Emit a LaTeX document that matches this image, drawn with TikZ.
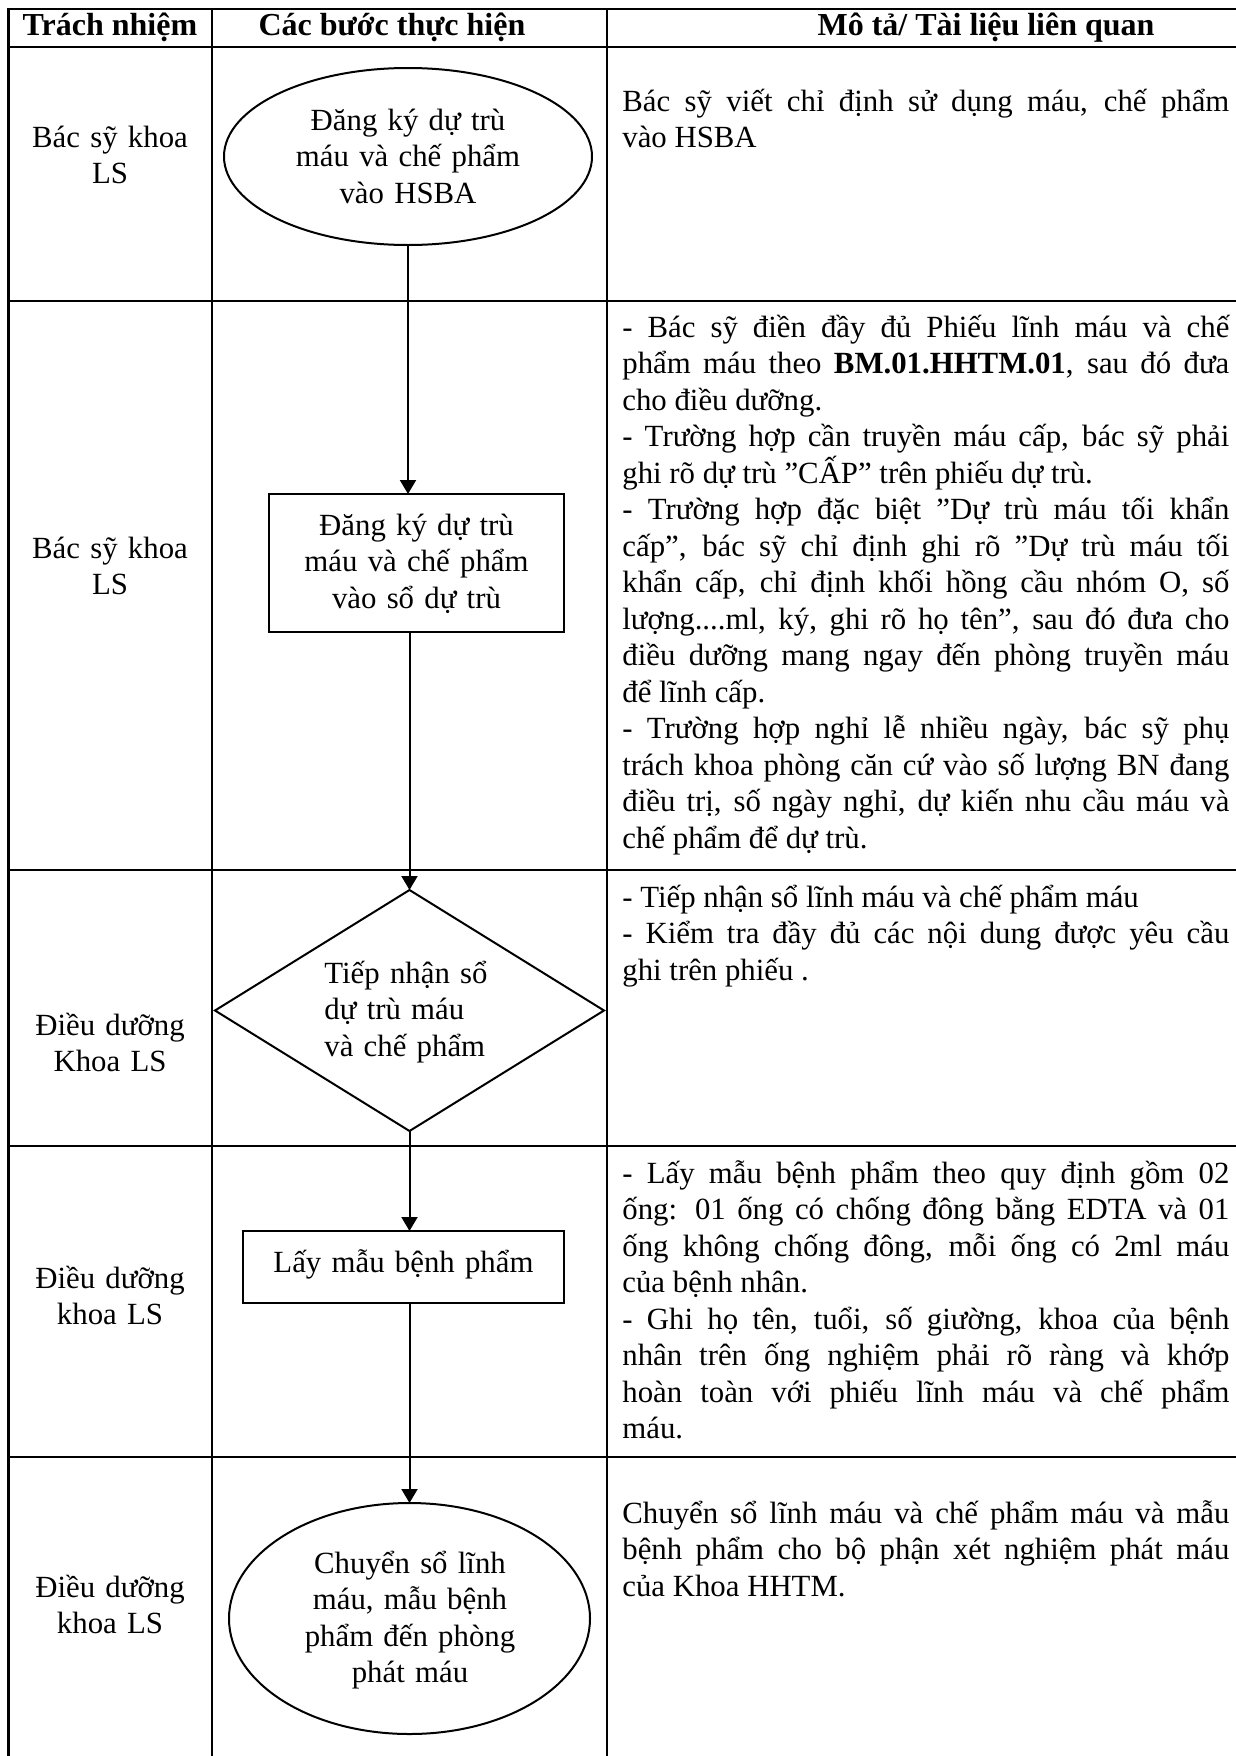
\documentclass[tikz,border=0pt]{standalone}
\usepackage{fontspec}
\setmainfont{Liberation Serif}
\usetikzlibrary{shapes.geometric,arrows.meta}
\newcommand\JL[1]{\hbox to \hsize{#1}}
\newcommand\LL[1]{\hbox{#1}}
\newcommand\DescBlock[1]{\vtop{\hsize=303.5pt\lineskiplimit=-100pt\lineskip=0pt\baselineskip=18.25pt\parindent=0pt #1}}
\tikzset{
  tbl/.style={line width=1.3pt, line cap=rect},
  shp/.style={draw, line width=1pt, inner sep=0pt, outer sep=0pt},
  arr/.style={line width=1pt, -{Triangle[width=8pt,length=7pt]}},
  txt/.style={inner sep=0pt, font=\fontsize{15.4pt}{18.25pt}\selectfont,
              execute at begin node={\lineskiplimit=-100pt\lineskip=0pt}},
  hdr/.style={txt, anchor=base, font=\fontsize{16pt}{18.25pt}\selectfont\bfseries},
  lbl/.style={txt, anchor=base, text width=110pt, align=center},
  inlbl/.style={txt, anchor=base, text width=170pt, align=center},
  desc/.style={txt, anchor=base west},
}
\begin{document}
\begin{tikzpicture}[x=0.5pt,y=-0.5pt]
\useasboundingbox (0,0) rectangle (1236,1756);

% table grid
\draw[tbl] (8.5,9) -- (1240,9);
\draw[tbl] (8.5,47) -- (1240,47);
\draw[tbl] (8.5,301) -- (1240,301);
\draw[tbl] (8.5,870) -- (1240,870);
\draw[tbl] (8.5,1146) -- (1240,1146);
\draw[tbl] (8.5,1457) -- (1240,1457);
\draw[tbl] (8.5,9) -- (8.5,1762);
\draw[tbl] (212,9) -- (212,1762);
\draw[tbl] (607,9) -- (607,1762);

% headers
\node[hdr] (h1) at (110,35) {Trách nhiệm};
\node[hdr] (h2) at (392,35) {Các bước thực hiện};
\node[hdr] (h3) at (986,35) {Mô tả/ Tài liệu liên quan};

% responsibility labels
\node[lbl] (r1) at (110,147) {Bác sỹ khoa\\LS};
\node[lbl] (r2) at (110,558) {Bác sỹ khoa\\LS};
\node[lbl] (r3) at (110,1035) {Điều dưỡng\\Khoa LS};
\node[lbl] (r4) at (110,1288) {Điều dưỡng\\khoa LS};
\node[lbl] (r5) at (110,1597) {Điều dưỡng\\khoa LS};

% flow shapes
\node[shp, ellipse, minimum width=184pt, minimum height=88.5pt] (e1) at (408,156.5) {};
\node[shp, rectangle, minimum width=147.5pt, minimum height=69pt] (b2) at (416.5,563) {};
\node[shp, diamond, minimum width=194.5pt, minimum height=120.5pt] (d3) at (409.5,1010.5) {};
\node[shp, rectangle, minimum width=160.5pt, minimum height=36pt] (b4) at (403.5,1267) {};
\node[shp, ellipse, minimum width=180.5pt, minimum height=115.5pt] (e5) at (409.5,1618.5) {};

% shape texts
\node[inlbl] (e1t) at (408,130) {Đăng ký dự trù\\máu và chế phẩm\\vào HSBA};
\node[inlbl] (b2t) at (416.5,535) {Đăng ký dự trù\\máu và chế phẩm\\vào sổ dự trù};
\node[txt, anchor=base west, text width=120pt, align=left] (d3t) at (324,983) {Tiếp nhận sổ\\dự trù máu\\và chế phẩm};
\node[inlbl] (b4t) at (403.5,1272) {Lấy mẫu bệnh phẩm};
\node[inlbl] (e5t) at (410,1573) {Chuyển sổ lĩnh\\máu, mẫu bệnh\\phẩm đến phòng\\phát máu};

% connectors
\draw[arr] (e1.south) -- (e1.south |- b2.north);
\draw[arr] (d3.north |- b2.south) -- (d3.north);
\draw[arr] (d3.south) -- (d3.south |- b4.north);
\draw[arr] (e5.north |- b4.south) -- (e5.north);

% descriptions
\node[desc] (t1) at (622,111) {\DescBlock{%
\JL{Bác sỹ viết chỉ định sử dụng máu, chế phẩm}%
\LL{vào HSBA}}};

\node[desc] (t2) at (622,337) {\DescBlock{%
\JL{- Bác sỹ điền đầy đủ Phiếu lĩnh máu và chế}%
\JL{phẩm máu theo \textbf{BM.01.HHTM.01}, sau đó đưa}%
\LL{cho điều dưỡng.}%
\JL{- Trường hợp cần truyền máu cấp, bác sỹ phải}%
\LL{ghi rõ dự trù ”CẤP” trên phiếu dự trù.}%
\JL{- Trường hợp đặc biệt ”Dự trù máu tối khẩn}%
\JL{cấp”, bác sỹ chỉ định ghi rõ ”Dự trù máu tối}%
\JL{khẩn cấp, chỉ định khối hồng cầu nhóm O, số}%
\JL{lượng....ml, ký, ghi rõ họ tên”, sau đó đưa cho}%
\JL{điều dưỡng mang ngay đến phòng truyền máu}%
\LL{để lĩnh cấp.}%
\JL{- Trường hợp nghỉ lễ nhiều ngày, bác sỹ phụ}%
\JL{trách khoa phòng căn cứ vào số lượng BN đang}%
\JL{điều trị, số ngày nghỉ, dự kiến nhu cầu máu và}%
\LL{chế phẩm để dự trù.}}};

\node[desc] (t3) at (622,907) {\DescBlock{%
\LL{- Tiếp nhận sổ lĩnh máu và chế phẩm máu}%
\JL{- Kiểm tra đầy đủ các nội dung được yêu cầu}%
\LL{ghi trên phiếu .}}};

\node[desc] (t4) at (622,1183) {\DescBlock{%
\JL{- Lấy mẫu bệnh phẩm theo quy định gồm 02}%
\JL{ống: 01 ống có chống đông bằng EDTA và 01}%
\JL{ống không chống đông, mỗi ống có 2ml máu}%
\LL{của bệnh nhân.}%
\JL{- Ghi họ tên, tuổi, số giường, khoa của bệnh}%
\JL{nhân trên ống nghiệm phải rõ ràng và khớp}%
\JL{hoàn toàn với phiếu lĩnh máu và chế phẩm}%
\LL{máu.}}};

\node[desc] (t5) at (622,1523) {\DescBlock{%
\JL{Chuyển sổ lĩnh máu và chế phẩm máu và mẫu}%
\JL{bệnh phẩm cho bộ phận xét nghiệm phát máu}%
\LL{của Khoa HHTM.}}};
\end{tikzpicture}
\end{document}
